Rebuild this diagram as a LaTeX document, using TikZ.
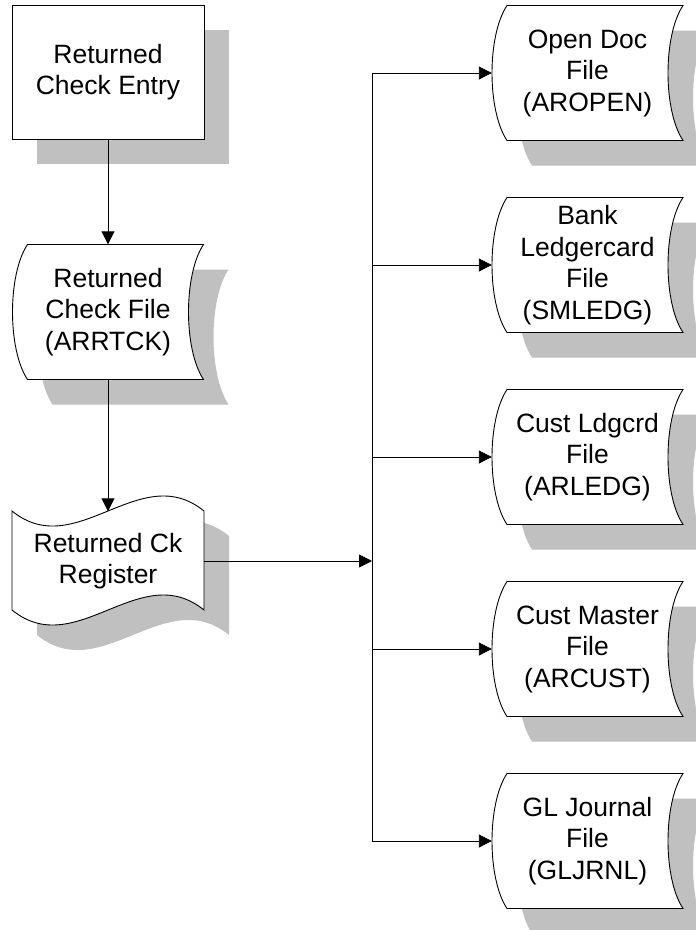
\documentclass[tikz,border=0pt]{standalone}
\usepackage{fontspec}
\setmainfont{Liberation Sans}
\usetikzlibrary{arrows.meta,calc}
\definecolor{shadowgray}{HTML}{C0C0C0}
\tikzset{
  outline/.style={draw=black, line width=0.9pt, fill=white},
  shadowfill/.style={fill=shadowgray},
  lbl/.style={inner sep=0pt, align=center, font=\fontsize{26.5}{31.5}\selectfont},
  conn/.style={draw=black, line width=0.9pt},
  arr/.style={conn, -{Triangle[length=13pt,width=13pt]}},
}
\newcommand\storedpath[2]{(#1-80.5,#2-67.5) -- (#1+95.5,#2-67.5) .. controls +(-20,30) and +(-20,-30) .. (#1+95.5,#2+67.5) -- (#1-80.5,#2+67.5) .. controls +(-20,-30) and +(-20,30) .. (#1-80.5,#2-67.5) -- cycle}
\newcommand\docpath[2]{(#1-96,#2-50) .. controls (#1-32,#2+2) and (#1+32,#2-102) .. (#1+96,#2-50) -- (#1+96,#2+49) .. controls (#1+32,#2-3) and (#1-32,#2+101) .. (#1-96,#2+49) -- cycle}
\begin{document}
\begin{tikzpicture}[x=1pt,y=-1pt]
\clip (0,0) rectangle (696,930);
\fill[white] (0,0) rectangle (696,930);
% shadows
\fill[shadowfill] (37,30) rectangle (229,164);
\fill[shadowfill, shift={(25,25)}] \storedpath{108}{312};
\fill[shadowfill, shift={(25,25)}] \docpath{108}{561};
\foreach \yy in {73,265,457,649,841}{
  \fill[shadowfill, shift={(25,25)}] \storedpath{587.5}{\yy};
}
% shapes
\filldraw[outline] \storedpath{108}{312};
\filldraw[outline] \docpath{108}{561};
\foreach \yy in {73,265,457,649,841}{
  \filldraw[outline] \storedpath{587.5}{\yy};
}
% nodes
\node[outline, lbl, minimum width=192pt, minimum height=134pt] (entry) at (108,72) {Returned\\Check Entry};
\node[lbl, minimum width=191pt, minimum height=135pt] (chk) at (108,312) {Returned\\Check File\\(ARRTCK)};
\node[lbl, minimum width=192pt, minimum height=99pt] (reg) at (108,561) {Returned Ck\\Register};
\node[lbl, minimum width=191pt, minimum height=135pt] (open) at (587.5,73) {Open Doc\\File\\(AROPEN)};
\node[lbl, minimum width=191pt, minimum height=135pt] (bank) at (587.5,265) {Bank\\Ledgercard\\File\\(SMLEDG)};
\node[lbl, minimum width=191pt, minimum height=135pt] (ldg) at (587.5,457) {Cust Ldgcrd\\File\\(ARLEDG)};
\node[lbl, minimum width=191pt, minimum height=135pt] (mst) at (587.5,649) {Cust Master\\File\\(ARCUST)};
\node[lbl, minimum width=191pt, minimum height=135pt] (gl) at (587.5,841) {GL Journal\\File\\(GLJRNL)};
% connectors
\coordinate (busx) at (372,0);
\draw[arr] (entry.south) -- (chk.north);
\draw[arr] (chk.south) -- (reg.north);
\draw[arr] (reg.east) -- (reg.east -| busx);
\draw[conn] (open.west -| busx) -- (gl.west -| busx);
\foreach \n in {open,bank,ldg,mst,gl}{
  \draw[arr] (\n.west -| busx) -- (\n.west);
}
\end{tikzpicture}
\end{document}
